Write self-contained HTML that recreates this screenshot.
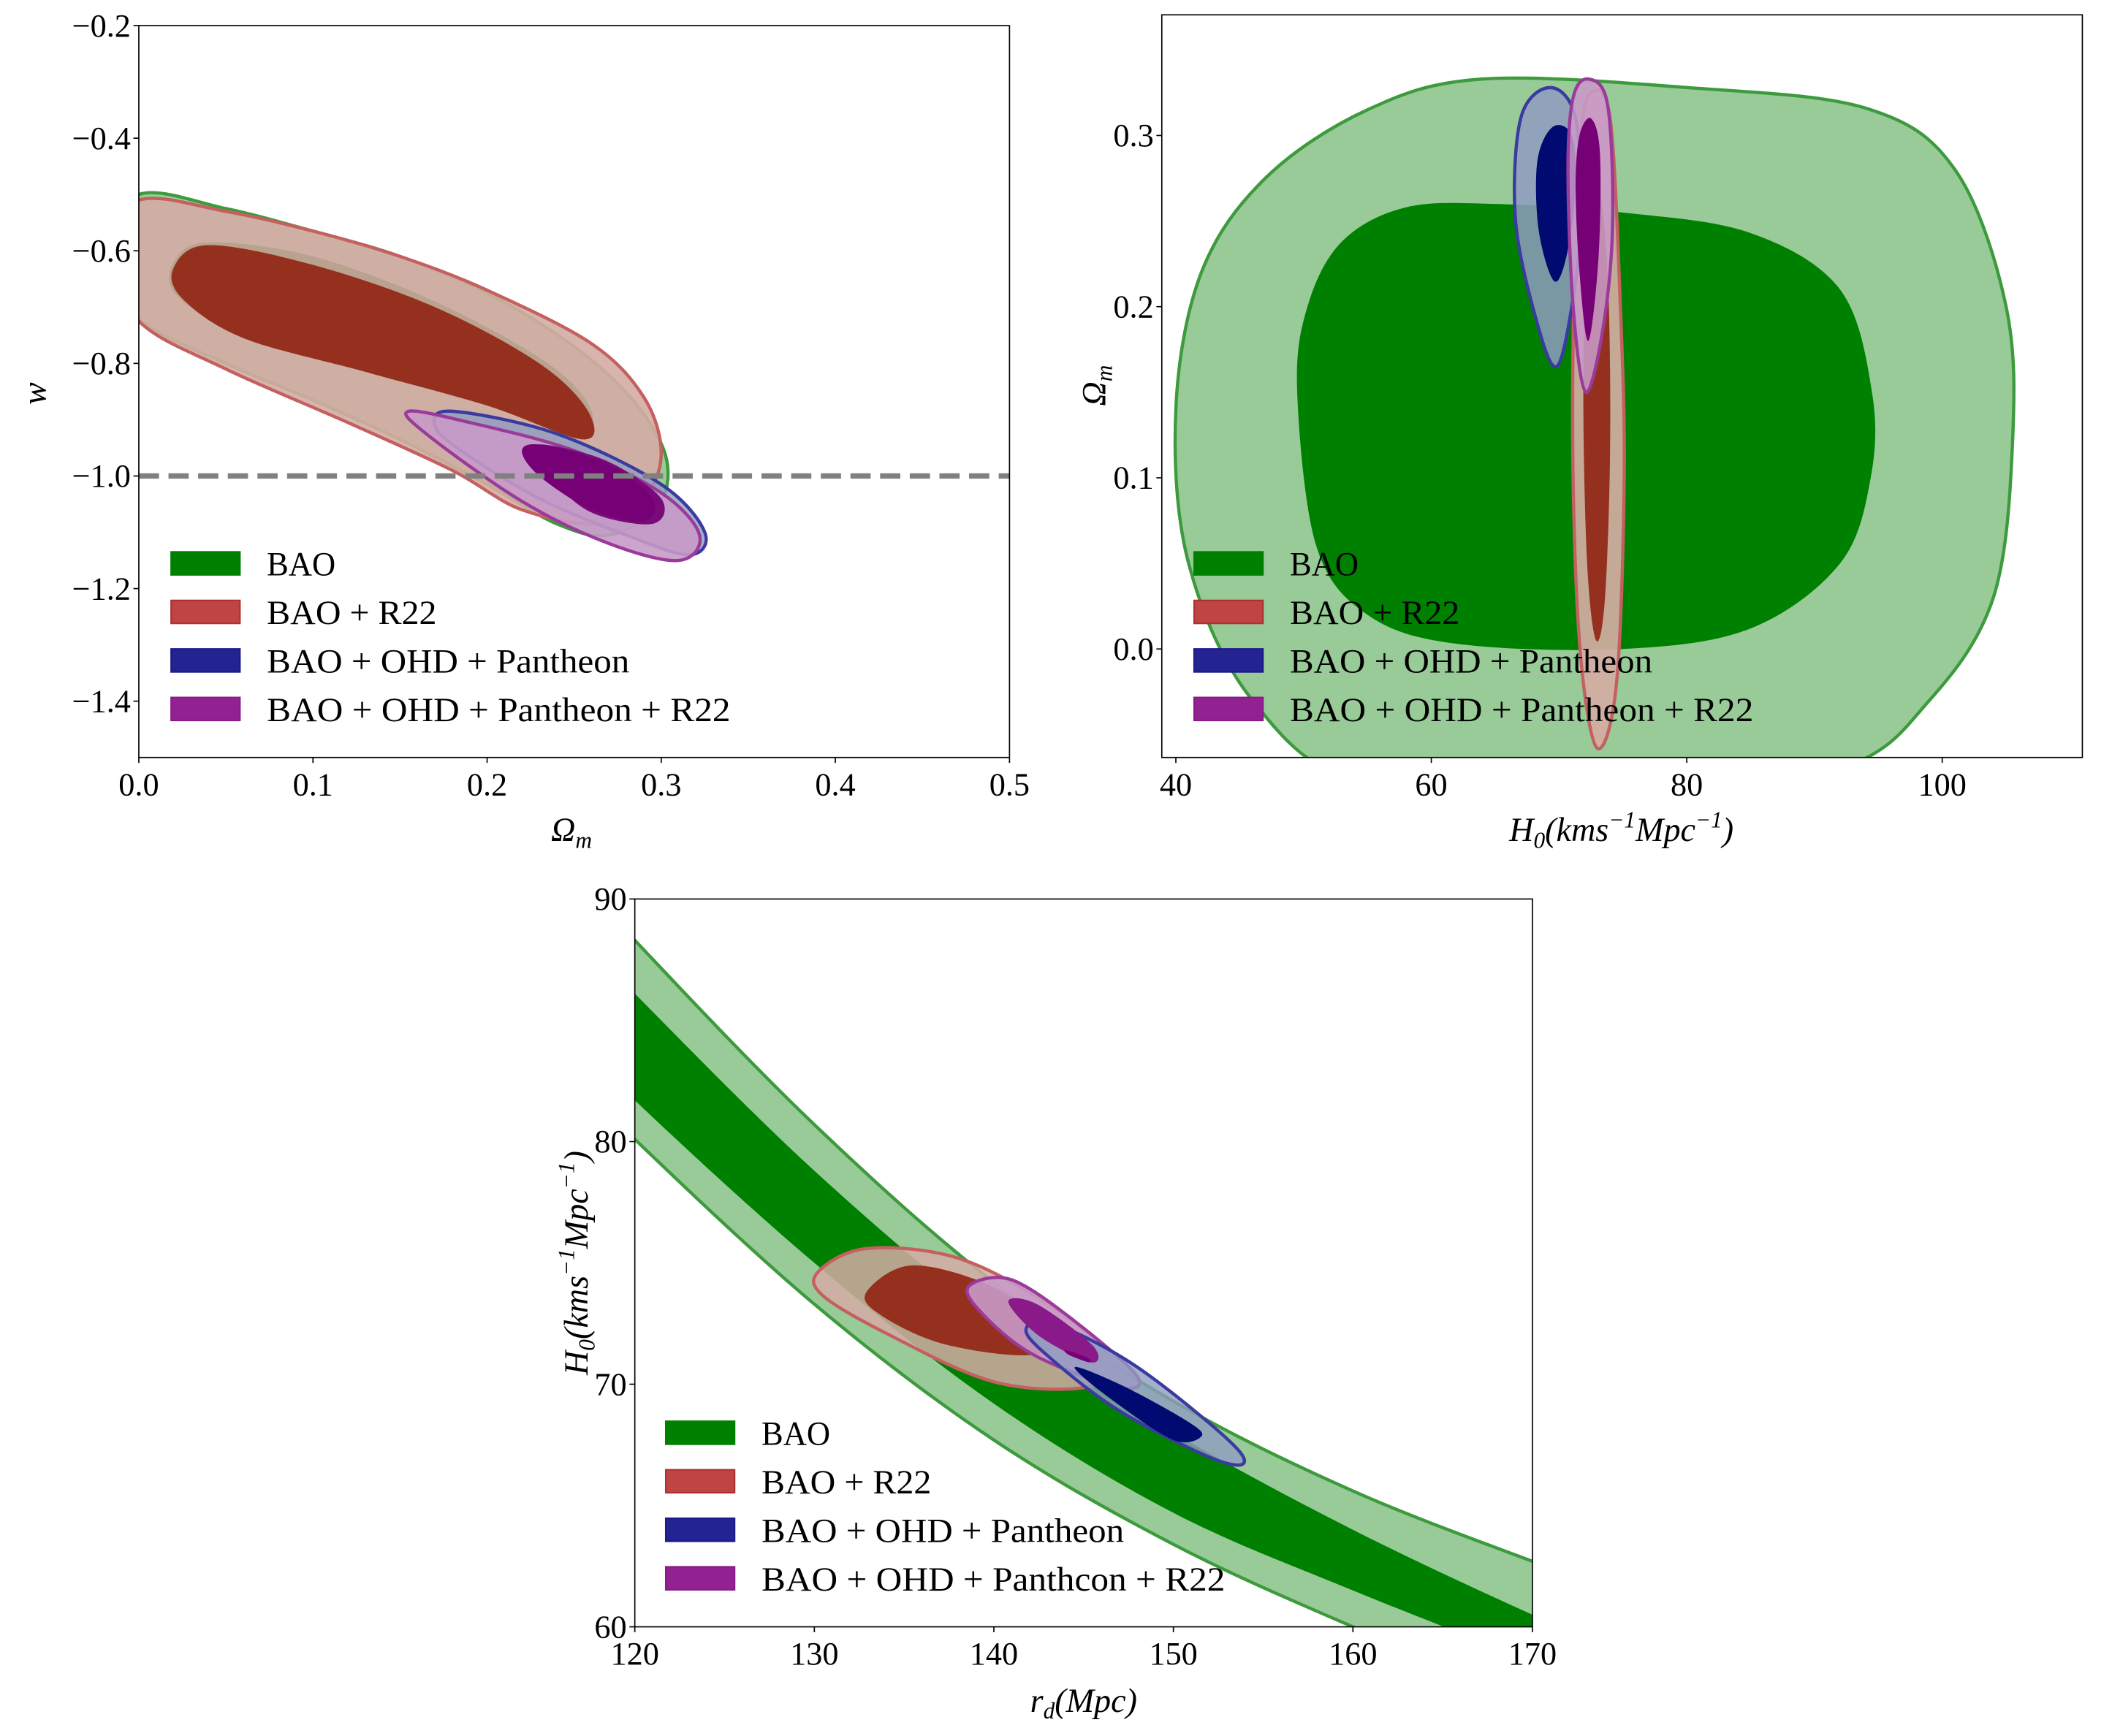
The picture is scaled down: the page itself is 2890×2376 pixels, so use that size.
<!DOCTYPE html>
<html><head><meta charset="utf-8"><style>
html,body{margin:0;padding:0;background:#fff}
svg{display:block}
text{font-family:"Liberation Serif",serif;fill:#000}
</style></head><body>
<svg id="fig" width="2890" height="2376" viewBox="0 0 1567 1288" preserveAspectRatio="none" xmlns="http://www.w3.org/2000/svg"></svg>
<script>
// ---------- data (contour vertices in data units) ----------
const p1_bao_outer=[[0,-0.5],[0.05,-0.525],[0.1,-0.565],[0.15,-0.61],[0.2,-0.675],[0.25,-0.77],[0.285,-0.87],[0.303,-0.97],[0.298,-1.055],[0.27,-1.105],[0.24,-1.085],[0.2,-1.015],[0.15,-0.935],[0.1,-0.865],[0.05,-0.8],[0,-0.72],[-0.02,-0.6]];
const p1_bao_inner=[[0.02,-0.62],[0.04,-0.585],[0.1,-0.61],[0.17,-0.69],[0.235,-0.8],[0.26,-0.885],[0.25,-0.93],[0.2,-0.87],[0.13,-0.81],[0.06,-0.75],[0.022,-0.68]];
const p1_r22_outer=[[0,-0.51],[0.05,-0.53],[0.1,-0.565],[0.15,-0.61],[0.2,-0.67],[0.26,-0.765],[0.29,-0.86],[0.3,-0.96],[0.29,-1.04],[0.265,-1.085],[0.22,-1.06],[0.18,-0.99],[0.12,-0.905],[0.05,-0.81],[0,-0.725],[-0.02,-0.6]];
const p1_r22_inner=[[0.02,-0.63],[0.04,-0.59],[0.1,-0.625],[0.17,-0.7],[0.23,-0.8],[0.258,-0.885],[0.255,-0.935],[0.2,-0.875],[0.13,-0.815],[0.06,-0.755],[0.025,-0.685]];
const p1_pan_outer=[[0.17,-0.91],[0.18,-0.885],[0.24,-0.925],[0.3,-1.015],[0.325,-1.1],[0.316,-1.14],[0.28,-1.105],[0.23,-1.04],[0.185,-0.955]];
const p1_pan_inner=[[0.225,-0.955],[0.235,-0.945],[0.27,-0.975],[0.3,-1.04],[0.295,-1.085],[0.26,-1.065],[0.235,-1.0]];
const p1_all_outer=[[0.155,-0.885],[0.19,-0.905],[0.25,-0.955],[0.3,-1.03],[0.322,-1.105],[0.31,-1.15],[0.27,-1.12],[0.22,-1.045],[0.165,-0.925]];
const p1_all_inner=[[0.22,-0.955],[0.232,-0.945],[0.27,-0.98],[0.295,-1.04],[0.29,-1.08],[0.26,-1.06],[0.23,-1.0]];

const p2_bao_outer=[[40,0.14],[42,0.22],[47,0.275],[55,0.315],[64,0.333],[80,0.328],[94,0.316],[101,0.28],[105,0.2],[105.5,0.12],[104,0.03],[99,-0.03],[92,-0.07],[75,-0.09],[55,-0.08],[46,-0.03],[41,0.05]];
const p2_bao_inner=[[49.5,0.15],[50.3,0.2],[53,0.238],[58,0.258],[65,0.26],[75,0.255],[85,0.243],[92,0.21],[94.5,0.15],[94.4,0.1],[92,0.05],[85,0.012],[75,0.0],[62,0.003],[55,0.02],[51,0.06]];
const p2_r22_outer=[[72.5,0.325],[74,0.31],[74.8,0.2],[75.1,0.1],[74.5,-0.02],[73,-0.058],[71.7,-0.005],[71.1,0.1],[71.2,0.22],[71.7,0.3]];
const p2_r22_inner=[[72.9,0.282],[73.8,0.22],[74,0.12],[73.6,0.03],[72.9,0.005],[72.2,0.05],[71.9,0.15],[72.2,0.25]];
const p2_pan_outer=[[67,0.31],[69.3,0.328],[71.3,0.31],[71.7,0.25],[71,0.2],[69.8,0.165],[68.3,0.19],[66.6,0.25]];
const p2_pan_inner=[[68.3,0.285],[69.5,0.305],[71,0.3],[71.3,0.27],[70.6,0.23],[69.6,0.215],[68.4,0.245]];
const p2_all_outer=[[71.1,0.322],[72.3,0.333],[73.8,0.318],[74.2,0.25],[73.5,0.19],[72.1,0.15],[71.1,0.2],[70.7,0.28]];
const p2_all_inner=[[71.6,0.3],[72.5,0.31],[73.2,0.29],[73.1,0.23],[72.3,0.18],[71.6,0.22],[71.3,0.27]];

const p3_rd=[115,120,130,140,150,160,170,175];
const p3_bao_o_up=[92.5,88.3,80.7,74.2,69.3,65.6,62.7,61.4];
const p3_bao_o_lo=[84.0,80.1,73.3,67.7,63.4,60.0,57.0,55.5];
const p3_bao_i_up=[90.0,86.1,78.8,72.6,68.0,64.0,60.5,59.0];
const p3_bao_i_lo=[85.5,81.7,75.0,69.2,64.7,61.5,58.6,57.3];
const p3_r22_outer=[[130.3,74.7],[133,75.6],[138,75.2],[143,73.3],[146.5,71.1],[145.3,69.9],[140,70.1],[134,72.1],[130.4,73.7]];
const p3_r22_inner=[[133,73.9],[135.5,74.9],[140,74.0],[143.6,72.1],[142,71.2],[137,71.7],[133.4,73.0]];
const p3_pan_outer=[[141.8,72.3],[143.3,72.5],[148,70.7],[153.6,67.3],[152.7,66.8],[147,68.9],[142.8,71.3]];
const p3_pan_inner=[[144.5,70.7],[147,70.0],[150.5,68.6],[151.6,67.9],[150,67.7],[146.5,69.4]];
const p3_all_outer=[[138.7,74.1],[141,74.3],[144.5,72.6],[148,70.3],[146.8,69.9],[142,71.3],[139,73.2]];
const p3_all_inner=[[140.8,73.4],[142.4,73.3],[145.5,71.6],[145.4,70.9],[142.5,72.0]];
const p3_all_core=[[144,71.4],[145.2,71.1],[145.3,70.9],[144.2,71.2]];

// ---------- styles ----------
const C={
 bao:{o:"#99cb99",i:"#008000",e:"#3d9a3d"},
 r22:{o:"#d5aca4",i:"#96301e",e:"#c46060"},
 pan:{o:"#8f9cc0",i:"#000a70",e:"#3a3aa0"},
 all:{o:"#c89ac8",i:"#760076",e:"#9a3a9a"}
};
const svg=document.getElementById('fig');
const NS="http://www.w3.org/2000/svg";
function mk(tag,attrs,parent){const e=document.createElementNS(NS,tag);for(const k in attrs)e.setAttribute(k,attrs[k]);(parent||svg).appendChild(e);return e;}
function smooth(pts){
 const n=pts.length;let d=`M${pts[0][0]},${pts[0][1]}`;
 for(let i=0;i<n;i++){const p0=pts[(i-1+n)%n],p1=pts[i],p2=pts[(i+1)%n],p3=pts[(i+2)%n];
  d+=`C${p1[0]+(p2[0]-p0[0])/6},${p1[1]+(p2[1]-p0[1])/6} ${p2[0]-(p3[0]-p1[0])/6},${p2[1]-(p3[1]-p1[1])/6} ${p2[0]},${p2[1]}`;}
 return d+"Z";
}
function openSmooth(pts,start){
 const n=pts.length;let d=start?`M${pts[0][0]},${pts[0][1]}`:`L${pts[0][0]},${pts[0][1]}`;
 for(let i=0;i<n-1;i++){const p0=pts[Math.max(i-1,0)],p1=pts[i],p2=pts[i+1],p3=pts[Math.min(i+2,n-1)];
  d+=`C${p1[0]+(p2[0]-p0[0])/6},${p1[1]+(p2[1]-p0[1])/6} ${p2[0]-(p3[0]-p1[0])/6},${p2[1]-(p3[1]-p1[1])/6} ${p2[0]},${p2[1]}`;}
 return d;
}
function panel(id,L,T,R,B,x0,x1,y0,y1){
 const sx=v=>L+(v-x0)/(x1-x0)*(R-L), sy=v=>B-(v-y0)/(y1-y0)*(B-T);
 const g=mk('g',{});
 
 
 const cp=mk('clipPath',{id:id+'-clip'},g);mk('rect',{x:L,y:T,width:R-L,height:B-T},cp);
 const plot=mk('g',{'clip-path':`url(#${id}-clip)`},g);
 return {sx,sy,g,plot,L,T,R,B};
}
function contour(P,pts,col,fill,name){
 const px=pts.map(p=>[P.sx(p[0]),P.sy(p[1])]);
 const el=mk('path',{d:smooth(px),fill:fill,stroke:col||'none','stroke-width':col?2.4:0},P.plot);
 
 
}
function band(P,xs,up,lo,fill,stroke,name){
 const U=xs.map((x,i)=>[P.sx(x),P.sy(up[i])]);
 const Lo=xs.map((x,i)=>[P.sx(x),P.sy(lo[i])]).reverse();
 const el=mk('path',{d:openSmooth(U,true)+openSmooth(Lo,false)+'Z',fill:fill},P.plot);
 
 
 if(stroke){[U,Lo].forEach((arr,k)=>{
  const l=mk('path',{d:openSmooth(arr,true),fill:'none',stroke:stroke,'stroke-width':2.4},P.plot);
  
  });}
}
function frame(P,xt,xl,yt,yl,xlabel,ylabel,xlp,ylp){
 const f=mk('rect',{x:P.L,y:P.T,width:P.R-P.L,height:P.B-P.T,fill:'none',stroke:'#000','stroke-width':0.9},P.g);
 
 xt.forEach((v,i)=>{const x=P.sx(v);mk('line',{x1:x,x2:x,y1:P.B,y2:P.B+4,stroke:'#000','stroke-width':0.9},P.g);
  const t=mk('text',{x:x,y:P.B+28,'text-anchor':'middle','font-size':24},P.g);t.textContent=xl[i];
  });
 yt.forEach((v,i)=>{const y=P.sy(v);mk('line',{x1:P.L-4,x2:P.L,y1:y,y2:y,stroke:'#000','stroke-width':0.9},P.g);
  const t=mk('text',{x:P.L-6,y:y+8,'text-anchor':'end','font-size':24},P.g);t.textContent=yl[i];
  });
 const xa=mk('text',{x:xlp[0],y:xlp[1],'text-anchor':'middle','font-size':25,'font-style':'italic'},P.g);xa.innerHTML=xlabel;
 
 const ya=mk('text',{x:0,y:0,'text-anchor':'middle','font-size':25,'font-style':'italic',transform:`translate(${ylp[0]},${ylp[1]}) rotate(-90)`},P.g);ya.innerHTML=ylabel;
 
}
const legendLabels=["BAO","BAO + R22","BAO + OHD + Pantheon","BAO + OHD + Pantheon + R22"];
const legendLabels3=["BAO","BAO + R22","BAO + OHD + Pantheon","BAO + OHD + Panthcon + R22"];
const legendWidths=[51,126,269,344];
function legend(P,x,y0,dy,labels){
 const cols=[["#008000","#008000"],["#bf4545","#b03030"],["#232391","#1a1a8a"],["#922292","#8a1a8a"]];
 labels.forEach((lab,i)=>{const y=y0+i*dy;
  const r=mk('rect',{x:x,y:y-8.5,width:51,height:17,fill:cols[i][0],stroke:cols[i][1],'stroke-width':1.2},P.g);
  
  const t=mk('text',{x:x+71,y:y+9,'font-size':25,textLength:legendWidths[i],lengthAdjust:'spacingAndGlyphs'},P.g);t.textContent=lab;
  });
}

// ---------- panel 1 ----------
const P1=panel('panel-omega-w',103,19,749,562,0,0.5,-1.5,-0.2);
contour(P1,p1_bao_outer,C.bao.e,C.bao.o,'bao-2sigma');
contour(P1,p1_r22_outer,C.r22.e,"rgba(213,172,164,0.9)",'bao-r22-2sigma');
contour(P1,p1_bao_inner,null,"#b9a290",'bao-1sigma');
contour(P1,p1_r22_inner,null,C.r22.i,'bao-r22-1sigma');
contour(P1,p1_pan_outer,C.pan.e,"rgba(143,156,192,0.8)",'pantheon-2sigma');
contour(P1,p1_all_outer,C.all.e,"rgba(200,154,200,0.9)",'all-2sigma');
contour(P1,p1_pan_inner,null,"#7a0a7a",'pantheon-1sigma');
contour(P1,p1_all_inner,null,C.all.i,'all-1sigma');
const dl=mk('line',{x1:103,x2:749,y1:P1.sy(-1),y2:P1.sy(-1),stroke:'#808080','stroke-width':4,'stroke-dasharray':'15,7'},P1.g);

frame(P1,[0,0.1,0.2,0.3,0.4,0.5],["0.0","0.1","0.2","0.3","0.4","0.5"],[-1.4,-1.2,-1.0,-0.8,-0.6,-0.4,-0.2],["−1.4","−1.2","−1.0","−0.8","−0.6","−0.4","−0.2"],'Ω<tspan font-size="17" dy="5">m</tspan>','w',[424,624],[34,292]);
legend(P1,127,418,36,legendLabels);

// ---------- panel 2 ----------
const P2=panel('panel-h0-omega',862,11,1545,562,38.9,110.97,-0.0634,0.3705);
contour(P2,p2_bao_outer,C.bao.e,C.bao.o,'bao-2sigma');
contour(P2,p2_bao_inner,null,C.bao.i,'bao-1sigma');
contour(P2,p2_r22_outer,C.r22.e,"rgba(213,172,164,0.92)",'bao-r22-2sigma');
contour(P2,p2_r22_inner,null,C.r22.i,'bao-r22-1sigma');
contour(P2,p2_pan_outer,C.pan.e,"rgba(143,156,192,0.85)",'pantheon-2sigma');
contour(P2,p2_pan_inner,null,C.pan.i,'pantheon-1sigma');
contour(P2,p2_all_outer,C.all.e,"rgba(200,154,200,0.88)",'all-2sigma');
contour(P2,p2_all_inner,null,C.all.i,'all-1sigma');
frame(P2,[40,60,80,100],["40","60","80","100"],[0,0.1,0.2,0.3],["0.0","0.1","0.2","0.3"],'H<tspan font-size="17" dy="5">0</tspan><tspan dy="-5">(kms</tspan><tspan font-size="17" dy="-10">−1</tspan><tspan dy="10">Mpc</tspan><tspan font-size="17" dy="-10">−1</tspan><tspan dy="10">)</tspan>','Ω<tspan font-size="17" dy="5">m</tspan>',[1203,624],[820,286]);
legend(P2,886,418,36,legendLabels);

// ---------- panel 3 ----------
const P3=panel('panel-rd-h0',471,667,1137,1207,120,170,60,90);
band(P3,p3_rd,p3_bao_o_up,p3_bao_o_lo,C.bao.o,C.bao.e,'bao-2sigma');
band(P3,p3_rd,p3_bao_i_up,p3_bao_i_lo,C.bao.i,null,'bao-1sigma');
contour(P3,p3_r22_outer,C.r22.e,"rgba(213,172,164,0.85)",'bao-r22-2sigma');
contour(P3,p3_r22_inner,null,C.r22.i,'bao-r22-1sigma');
contour(P3,p3_all_outer,C.all.e,"rgba(200,154,200,0.9)",'all-2sigma');
contour(P3,p3_pan_outer,C.pan.e,"rgba(143,156,192,0.8)",'pantheon-2sigma');
contour(P3,p3_pan_inner,null,C.pan.i,'pantheon-1sigma');
contour(P3,p3_all_inner,null,"#8a1a8a",'all-1sigma');
contour(P3,p3_all_core,null,C.all.i,'all-core');
frame(P3,[120,130,140,150,160,170],["120","130","140","150","160","170"],[60,70,80,90],["60","70","80","90"],'r<tspan font-size="17" dy="5">d</tspan><tspan dy="-5">(Mpc)</tspan>','H<tspan font-size="17" dy="5">0</tspan><tspan dy="-5">(kms</tspan><tspan font-size="17" dy="-10">−1</tspan><tspan dy="10">Mpc</tspan><tspan font-size="17" dy="-10">−1</tspan><tspan dy="10">)</tspan>',[804,1270],[436,937]);
legend(P3,494,1063,36,legendLabels3);
</script>
</body></html>
